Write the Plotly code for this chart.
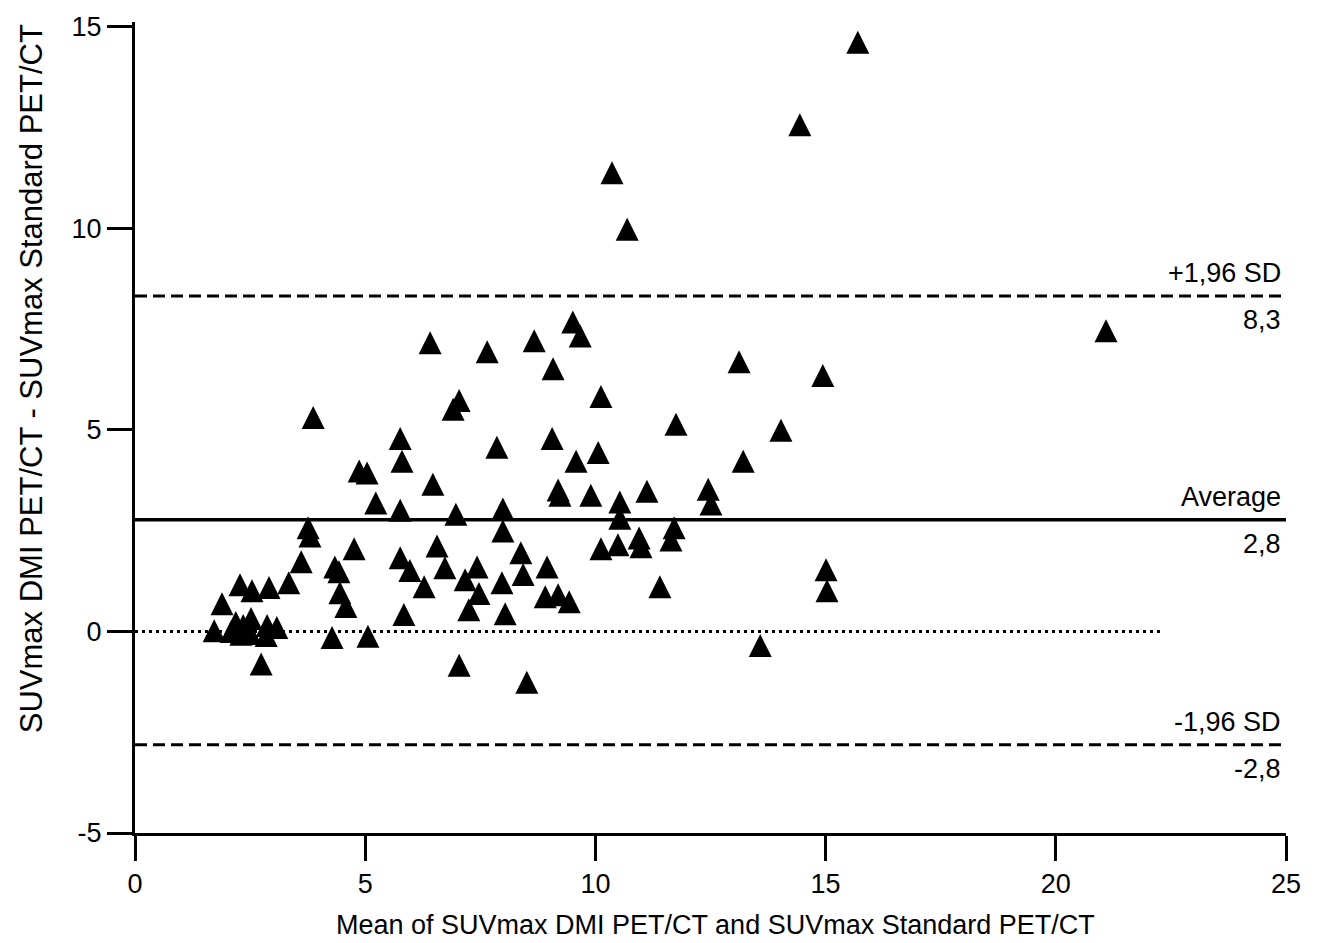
import plotly.graph_objects as go

# Bland-Altman data
mean_suv = [15.70, 14.44, 10.36, 10.69, 21.09, 9.51, 9.67, 6.41, 8.67, 7.65,
            13.12, 14.94, 9.08, 7.04, 6.91, 3.87, 10.12, 11.75, 14.03, 5.76,
            5.80, 9.06, 7.86, 10.06, 9.58, 13.21, 4.87, 5.04, 6.47, 5.23,
            9.19, 9.23, 9.90, 11.12, 10.53, 10.53, 12.45, 12.51, 5.76, 3.76,
            3.80, 6.97, 7.99, 7.99, 11.71, 11.64, 10.95, 10.99, 10.12, 10.49,
            6.56, 4.76, 8.38, 8.43, 3.61, 5.76, 5.97, 6.73, 6.28, 5.84,
            4.34, 4.43, 4.45, 4.58, 4.28, 5.06, 3.34, 2.91, 2.54, 2.28,
            1.89, 1.72, 2.74, 2.09, 2.19, 2.35, 2.52, 2.30, 2.50, 2.87,
            3.08, 2.85, 7.17, 7.43, 7.47, 7.25, 7.97, 8.04, 7.04, 8.51,
            8.95, 8.91, 9.19, 9.43, 11.40, 15.01, 15.03, 13.58]
diff_suv = [14.62, 12.57, 11.38, 9.98, 7.46, 7.68, 7.33, 7.16, 7.21, 6.94,
            6.69, 6.35, 6.52, 5.73, 5.51, 5.31, 5.83, 5.14, 4.99, 4.79,
            4.22, 4.79, 4.57, 4.44, 4.22, 4.22, 3.98, 3.93, 3.65, 3.19,
            3.51, 3.38, 3.38, 3.48, 3.21, 2.81, 3.53, 3.16, 3.01, 2.57,
            2.37, 2.91, 3.04, 2.49, 2.57, 2.27, 2.32, 2.10, 2.05, 2.15,
            2.12, 2.05, 1.95, 1.41, 1.73, 1.83, 1.51, 1.58, 1.11, 0.42,
            1.60, 1.48, 0.96, 0.62, -0.15, -0.12, 1.21, 1.09, 1.01, 1.16,
            0.69, 0.02, -0.81, 0.00, 0.22, 0.15, 0.32, -0.07, -0.05, 0.15,
            0.10, -0.10, 1.28, 1.60, 0.94, 0.54, 1.21, 0.44, -0.84, -1.26,
            1.60, 0.86, 0.91, 0.74, 1.11, 1.53, 1.01, -0.35]

mean_diff = 2.77
upper_loa = 8.32
lower_loa = -2.81
line_x = [0, 25]
zero_x = [0, 22.33]

x_ticks = [0, 5, 10, 15, 20, 25]
x_tick_text = ["0", "5", "10", "15", "20", "25"]
y_ticks = [-5, 0, 5, 10, 15]
y_tick_text = ["-5", "0", "5", "10", "15"]

labels_above = ["+1,96 SD", "Average", "-1,96 SD"]
labels_below = ["8,3", "2,8", "-2,8"]
label_levels = [upper_loa, mean_diff, lower_loa]

FONT = "Liberation Sans, Arial, sans-serif"

fig = go.Figure()

fig.add_trace(go.Scatter(x=zero_x, y=[0, 0], mode="lines",
                         line=dict(color="black", width=3, dash="3px,4px"),
                         showlegend=False, hoverinfo="skip"))
fig.add_trace(go.Scatter(x=line_x, y=[upper_loa] * 2, mode="lines",
                         line=dict(color="black", width=3, dash="12px,6px"),
                         showlegend=False, hoverinfo="skip"))
fig.add_trace(go.Scatter(x=line_x, y=[lower_loa] * 2, mode="lines",
                         line=dict(color="black", width=3, dash="12px,6px"),
                         showlegend=False, hoverinfo="skip"))
fig.add_trace(go.Scatter(x=line_x, y=[mean_diff] * 2, mode="lines",
                         line=dict(color="black", width=3.5),
                         showlegend=False, hoverinfo="skip"))

fig.add_trace(go.Scatter(
    x=mean_suv, y=diff_suv, mode="markers", showlegend=False,
    marker=dict(symbol="arrow-down", angle=180, standoff=11.5, size=23,
                color="black", line=dict(width=0)),
))

annotations = []
for txt_a, txt_b, lev in zip(labels_above, labels_below, label_levels):
    annotations.append(dict(x=25, y=lev, xref="x", yref="y", text=txt_a,
                            showarrow=False, xanchor="right", yanchor="middle",
                            xshift=-3, yshift=23,
                            font=dict(family=FONT, size=27, color="black")))
    annotations.append(dict(x=25, y=lev, xref="x", yref="y", text=txt_b,
                            showarrow=False, xanchor="right", yanchor="middle",
                            xshift=-3, yshift=-24,
                            font=dict(family=FONT, size=27, color="black")))

annotations.append(dict(x=0.504, y=-0.113, xref="paper", yref="paper",
                        text="Mean of SUVmax DMI PET/CT and SUVmax Standard PET/CT",
                        showarrow=False, xanchor="center", yanchor="middle",
                        font=dict(family=FONT, size=27, color="black")))
annotations.append(dict(x=-0.0904, y=0.5607, xref="paper", yref="paper",
                        text="SUVmax DMI PET/CT - SUVmax Standard PET/CT",
                        showarrow=False, xanchor="center", yanchor="middle",
                        textangle=-90,
                        font=dict(family=FONT, size=31, color="black")))

fig.update_layout(
    width=1318, height=943,
    margin=dict(l=135, r=32, t=18, b=110),
    paper_bgcolor="white", plot_bgcolor="white",
    font=dict(family=FONT, size=27, color="black"),
    annotations=annotations,
    xaxis=dict(range=[0, 25], tickvals=x_ticks, ticktext=x_tick_text,
               showgrid=False, zeroline=False,
               showline=True, linecolor="black", linewidth=3,
               ticks="outside", ticklen=25, tickwidth=2.5, tickcolor="black",
               tickfont=dict(family=FONT, size=27, color="black")),
    yaxis=dict(range=[-5, 15.12], tickvals=y_ticks, ticktext=y_tick_text,
               showgrid=False, zeroline=False,
               showline=True, linecolor="black", linewidth=3,
               ticks="outside", ticklen=25, tickwidth=2.5, tickcolor="black",
               tickfont=dict(family=FONT, size=27, color="black")),
)

fig.write_html("out.html", config={"displayModeBar": False},
               post_script="document.body.style.margin='0';")
